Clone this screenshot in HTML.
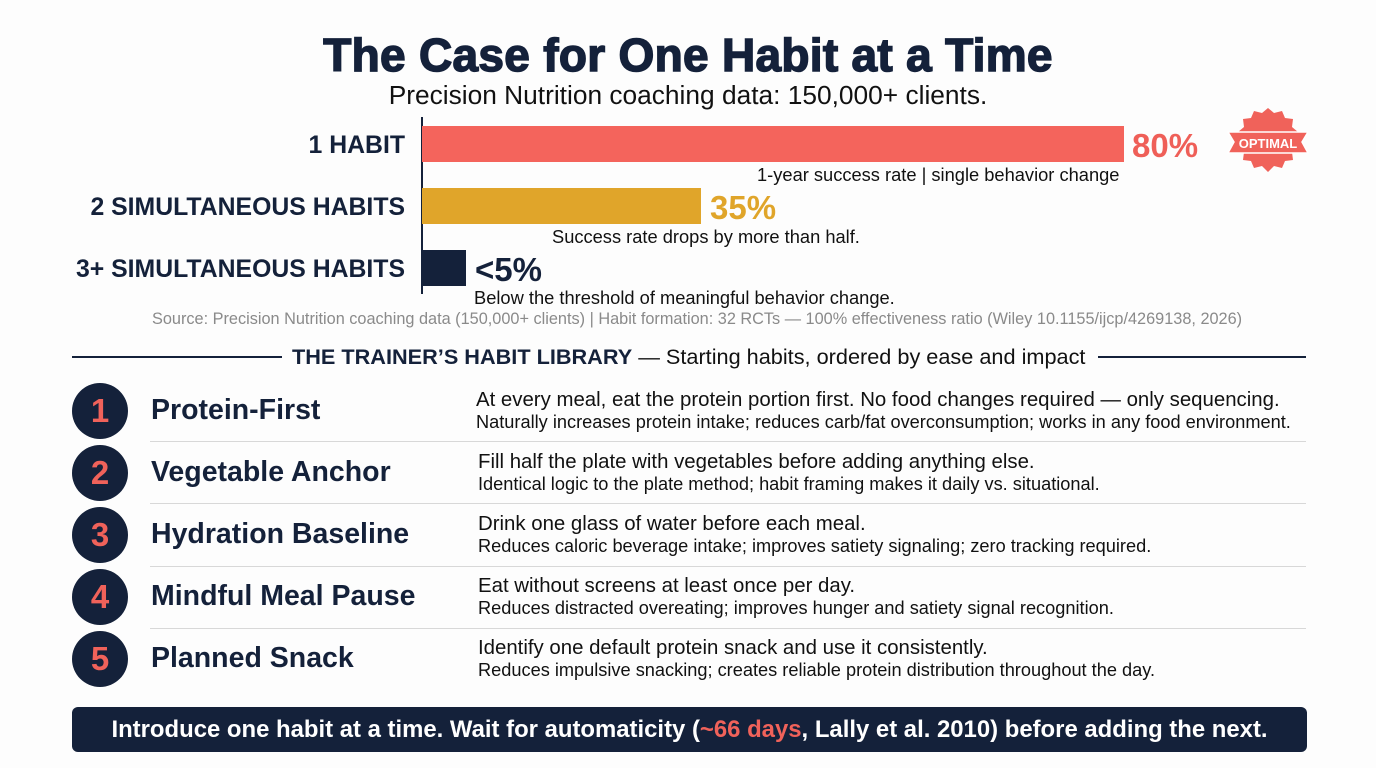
<!DOCTYPE html>
<html><head><meta charset="utf-8"><style>
body{margin:0;width:1376px;height:768px;background:#fdfdfd;position:relative;overflow:hidden;font-family:"Liberation Sans",sans-serif;color:#14213a}
.a{position:absolute;white-space:nowrap}
.lbl{font-weight:bold;font-size:24.8px;right:971px;text-align:right}
.bar{position:absolute;left:422px;height:36px}
.pct{font-weight:bold;font-size:33px}
.note{font-size:18.3px;color:#111}
.c{position:absolute;left:72px;width:56px;height:56px;border-radius:50%;background:#14213a;color:#f0625a;font-weight:bold;font-size:33px;text-align:center;line-height:56px}
.t{left:151px;font-weight:bold;font-size:28.5px}
.d1{font-size:20.4px;color:#111}
.d2{font-size:18.2px;color:#111}
.sep{position:absolute;left:150px;width:1156px;height:1px;background:#d8d8d8}
</style></head><body>
<div class="a" style="left:0;width:1376px;text-align:center;top:28px;font-weight:900;font-size:46px;letter-spacing:0.3px;-webkit-text-stroke:1.5px #14213a">The Case for One Habit at a Time</div>
<div class="a" style="left:0;width:1376px;text-align:center;top:80px;font-size:26.3px;color:#111">Precision Nutrition coaching data: 150,000+ clients.</div>
<div style="position:absolute;left:421px;top:117px;width:2px;height:177px;background:#14213a"></div>
<div class="a lbl" style="top:132px">1 HABIT</div>
<div class="a lbl" style="top:194px">2 SIMULTANEOUS HABITS</div>
<div class="a lbl" style="top:256px">3+ SIMULTANEOUS HABITS</div>
<div class="bar" style="top:126px;width:702px;background:#f4645c"></div>
<div class="bar" style="top:188px;width:279px;background:#e0a52a"></div>
<div class="bar" style="top:250px;width:44px;background:#14213a"></div>
<div class="a pct" style="left:1132px;top:127px;color:#ef5f58">80%</div>
<div class="a pct" style="left:710px;top:189px;color:#e0a52a">35%</div>
<div class="a pct" style="left:475px;top:251px;color:#14213a">&lt;5%</div>
<div class="a note" style="left:757px;top:164px">1-year success rate | single behavior change</div>
<div class="a note" style="left:552px;top:226px">Success rate drops by more than half.</div>
<div class="a note" style="left:474px;top:287px">Below the threshold of meaningful behavior change.</div>
<svg style="position:absolute;left:1222px;top:108px" width="92" height="70" viewBox="0 0 92 70">
<polygon fill="#f0625a" points="46,0 52,5 60,3 63,10 71,11 70,19 76,24 72,31 76,38 70,44 71,52 63,53 60,60 52,58 46,64 40,58 32,60 29,53 21,52 22,44 16,38 20,31 16,24 22,19 21,11 29,10 32,3 40,5"/>
<polygon fill="#f0625a" stroke="#fff" stroke-width="1.5" points="6,24 86,24 80,34 86,45 6,45 12,34"/>
<text x="46" y="40" text-anchor="middle" fill="#fff" font-family="Liberation Sans" font-weight="bold" font-size="13">OPTIMAL</text>
</svg>
<div class="a" style="left:152px;top:310px;font-size:16.3px;color:#8a8a8a">Source: Precision Nutrition coaching data (150,000+ clients) | Habit formation: 32 RCTs — 100% effectiveness ratio (Wiley 10.1155/ijcp/4269138, 2026)</div>
<div style="position:absolute;left:72px;top:356px;width:210px;height:2px;background:#14213a"></div>
<div style="position:absolute;left:1098px;top:356px;width:208px;height:2px;background:#14213a"></div>
<div class="a" style="left:292px;top:344px;font-size:21.7px;color:#111"><b style="color:#14213a">THE TRAINER’S HABIT LIBRARY</b> — Starting habits, ordered by ease and impact</div>

<div class="c" style="top:383px">1</div><div class="a t" style="top:394px">Protein-First</div>
<div class="a d1" style="left:476px;top:389px">At every meal, eat the protein portion first. No food changes required — only sequencing.</div>
<div class="a d2" style="left:476px;top:412px">Naturally increases protein intake; reduces carb/fat overconsumption; works in any food environment.</div>
<div class="sep" style="top:441px"></div>
<div class="c" style="top:445px">2</div><div class="a t" style="top:456px">Vegetable Anchor</div>
<div class="a d1" style="left:478px;top:451px">Fill half the plate with vegetables before adding anything else.</div>
<div class="a d2" style="left:478px;top:474px">Identical logic to the plate method; habit framing makes it daily vs. situational.</div>
<div class="sep" style="top:503px"></div>
<div class="c" style="top:507px">3</div><div class="a t" style="top:518px">Hydration Baseline</div>
<div class="a d1" style="left:478px;top:513px">Drink one glass of water before each meal.</div>
<div class="a d2" style="left:478px;top:536px">Reduces caloric beverage intake; improves satiety signaling; zero tracking required.</div>
<div class="sep" style="top:566px"></div>
<div class="c" style="top:569px">4</div><div class="a t" style="top:580px">Mindful Meal Pause</div>
<div class="a d1" style="left:478px;top:575px">Eat without screens at least once per day.</div>
<div class="a d2" style="left:478px;top:598px">Reduces distracted overeating; improves hunger and satiety signal recognition.</div>
<div class="sep" style="top:628px"></div>
<div class="c" style="top:631px">5</div><div class="a t" style="top:642px">Planned Snack</div>
<div class="a d1" style="left:478px;top:637px">Identify one default protein snack and use it consistently.</div>
<div class="a d2" style="left:478px;top:660px">Reduces impulsive snacking; creates reliable protein distribution throughout the day.</div>

<div style="position:absolute;left:72px;top:707px;width:1235px;height:45px;background:#14213a;border-radius:6px;color:#fff;font-weight:bold;font-size:23.9px;text-align:center;line-height:45px;white-space:nowrap">Introduce one habit at a time. Wait for automaticity (<span style="color:#f0625a">~66 days</span>, Lally et al. 2010) before adding the next.</div>
</body></html>
